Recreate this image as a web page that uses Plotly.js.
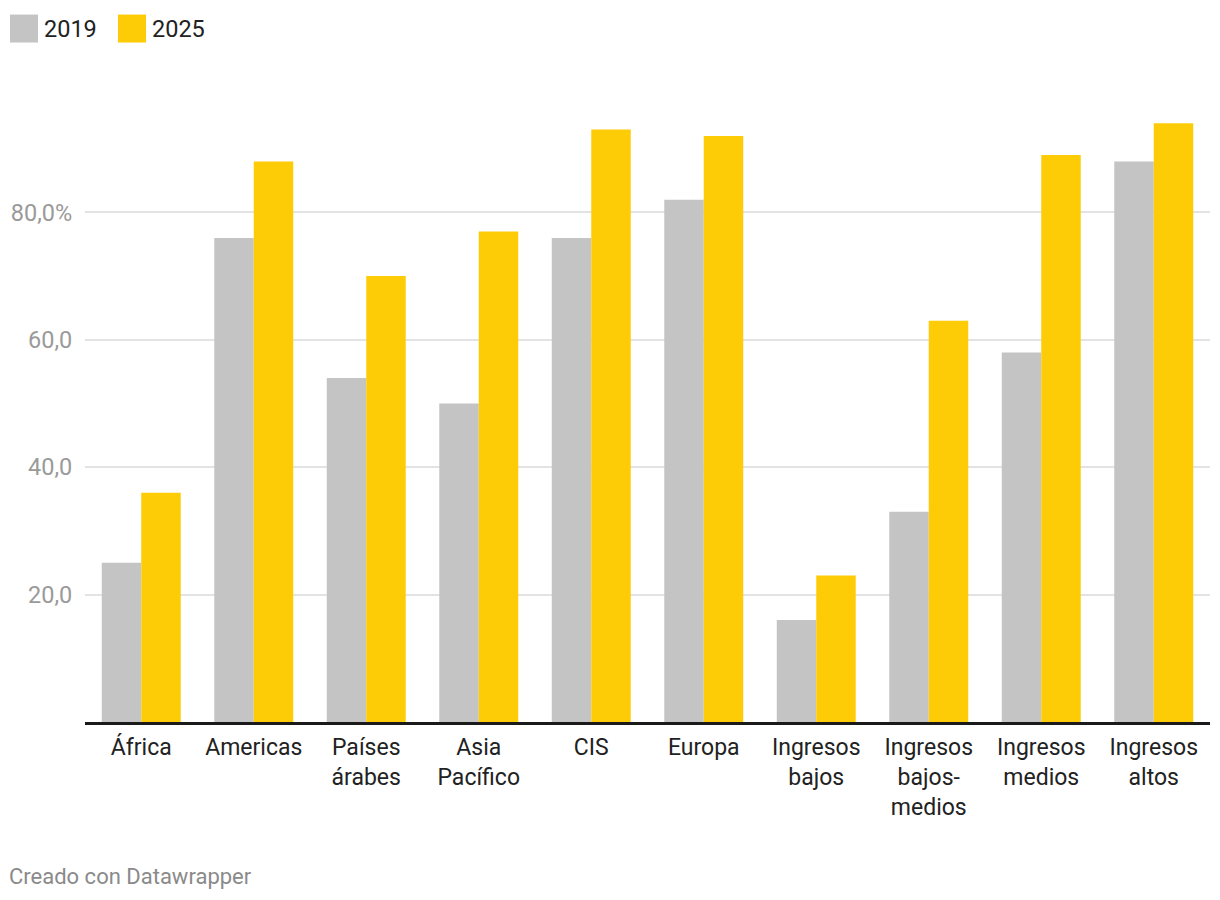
<!DOCTYPE html>
<html>
<head>
<meta charset="utf-8">
<script src="https://cdn.plot.ly/plotly-3.0.1.min.js"></script>
<style>
  html, body { margin: 0; padding: 0; background: #fff; }
  #chart { width: 1220px; height: 900px; }
</style>
</head>
<body>
<div id="chart"></div>
<script>
const categories = ["África", "Americas", "Países<br>árabes", "Asia<br>Pacífico", "CIS", "Europa",
  "Ingresos<br>bajos", "Ingresos<br>bajos-<br>medios", "Ingresos<br>medios", "Ingresos<br>altos"];
const values2019 = [25, 76, 54, 50, 76, 82, 16, 33, 58, 88];
const values2025 = [36, 88, 70, 77, 93, 92, 23, 63, 89, 94];
const yTickVals = [20, 40, 60, 80];
const yTickText = ["20,0", "40,0", "60,0", "80,0%"];
const seriesNames = ["2019", "2025"];
const colors = ["#c4c4c4", "#fecc07"];

const W = 1220, H = 900;
const mL = 85, mR = 10, mT = 84.5, mB = 178;
const pw = W - mL - mR, ph = H - mT - mB;
const px = x => (x - mL) / pw;
const py = y => (H - mB - y) / ph;

const traces = [
  { type: "bar", name: seriesNames[0], x: categories, y: values2019, marker: { color: colors[0] }, hoverinfo: "x+y" },
  { type: "bar", name: seriesNames[1], x: categories, y: values2025, marker: { color: colors[1] }, hoverinfo: "x+y" }
];

const font = "Roboto, 'Liberation Sans', sans-serif";

const layout = {
  width: W, height: H,
  margin: { l: mL, r: mR, t: mT, b: mB },
  paper_bgcolor: "#ffffff",
  plot_bgcolor: "#ffffff",
  font: { family: font, size: 22, color: "#222" },
  showlegend: false,
  barmode: "group",
  bargap: 0.298,
  bargroupgap: 0,
  xaxis: {
    type: "category",
    showgrid: false,
    showline: true,
    linecolor: "#1a1a1a",
    linewidth: 2.5,
    ticks: "outside",
    ticklen: 3,
    tickcolor: "rgba(0,0,0,0)",
    tickfont: { family: font, size: 23, color: "#222" },
    fixedrange: true
  },
  yaxis: {
    range: [0, 100],
    tickvals: yTickVals,
    ticktext: yTickText,
    showgrid: true,
    gridcolor: "#e3e3e3",
    gridwidth: 2,
    zeroline: false,
    showline: false,
    ticks: "outside",
    ticklen: 7,
    tickcolor: "rgba(0,0,0,0)",
    tickfont: { family: font, size: 23.5, color: "#9a9a9a" },
    fixedrange: true
  },
  shapes: [
    { type: "rect", xref: "paper", yref: "paper", x0: px(10), x1: px(38), y0: py(42), y1: py(14), fillcolor: colors[0], line: { width: 0 } },
    { type: "rect", xref: "paper", yref: "paper", x0: px(118), x1: px(146), y0: py(42), y1: py(14), fillcolor: colors[1], line: { width: 0 } }
  ],
  annotations: [
    { xref: "paper", yref: "paper", x: px(42), y: py(28), xanchor: "left", yanchor: "middle", text: seriesNames[0], showarrow: false, font: { family: font, size: 23.5, color: "#222" } },
    { xref: "paper", yref: "paper", x: px(150), y: py(28), xanchor: "left", yanchor: "middle", text: seriesNames[1], showarrow: false, font: { family: font, size: 23.5, color: "#222" } },
    { xref: "paper", yref: "paper", x: px(7), y: py(877), xanchor: "left", yanchor: "middle", text: "Creado con Datawrapper", showarrow: false, font: { family: font, size: 22, color: "#8a8a8a" } }
  ]
};

Plotly.newPlot("chart", traces, layout, { displayModeBar: false, staticPlot: true });
</script>
</body>
</html>
